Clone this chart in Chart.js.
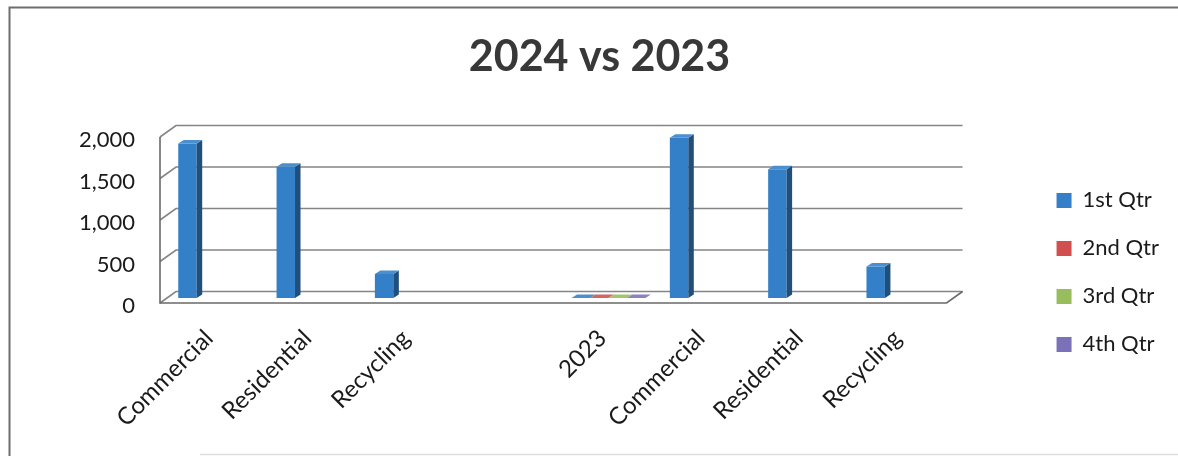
<!DOCTYPE html>
<html>
<head>
<meta charset="utf-8">
<title>2024 vs 2023</title>
<script src="https://cdn.jsdelivr.net/npm/chart.js@4.4.1/dist/chart.umd.min.js"></script>
<style>
  html, body { margin: 0; padding: 0; background: #ffffff; }
  canvas { display: block; }
</style>
</head>
<body>
<canvas id="chart" width="1178" height="456"></canvas>
<script>
// ---- data ----
const categories = ['Commercial', 'Residential', 'Recycling', '', '2023', 'Commercial', 'Residential', 'Recycling'];
const seriesNames = ['1st Qtr', '2nd Qtr', '3rd Qtr', '4th Qtr'];
const qtr1 = [1860, 1580, 290, null, 0, 1930, 1550, 380];
const qtr2 = [null, null, null, null, 0, null, null, null];
const qtr3 = [null, null, null, null, 0, null, null, null];
const qtr4 = [null, null, null, null, 0, null, null, null];
const yTickValues = [0, 500, 1000, 1500, 2000];
const yTickLabels = ['0', '500', '1,000', '1,500', '2,000'];

// ---- styling ----
const seriesColors = ['#3380c8', '#d24f4f', '#98bd5c', '#7a71b8'];
const FONT = 'Lato';
const WALL_DEPTH = { dx: 16, dy: 11.5 };   // front plane -> back wall
const BAR_SHIFT = { dx: 6, dy: -5 };       // bars sit mid-depth on the floor
const BAR_DEPTH = { dx: 5.5, dy: 3.5 };    // thickness of each column

function shade(hex, f) {
  const n = parseInt(hex.slice(1), 16);
  let r = (n >> 16) & 255, g = (n >> 8) & 255, b = n & 255;
  const mix = (c) => f < 1 ? Math.round(c * f) : Math.round(c + (255 - c) * (f - 1));
  return `rgb(${mix(r)},${mix(g)},${mix(b)})`;
}

// Page frame, 3D walls/floor and extruded column faces
const frame3d = {
  id: 'frame3d',
  beforeDraw(chart) {
    const ctx = chart.ctx;
    ctx.save();
    ctx.strokeStyle = '#6e6e6e';
    ctx.lineWidth = 2;
    ctx.beginPath();
    ctx.moveTo(9.5, 456);
    ctx.lineTo(9.5, 7.5);
    ctx.lineTo(1178, 7.5);
    ctx.stroke();
    ctx.strokeStyle = '#dddddd';
    ctx.lineWidth = 1.5;
    ctx.beginPath();
    ctx.moveTo(200, 454.5);
    ctx.lineTo(1178, 454.5);
    ctx.stroke();
    ctx.restore();
  },
  beforeDatasetsDraw(chart) {
    const { ctx, chartArea: a, scales: { y } } = chart;
    ctx.save();
    ctx.strokeStyle = '#858585';
    ctx.lineWidth = 1.6;
    yTickValues.forEach((v) => {
      const py = y.getPixelForValue(v);
      ctx.beginPath();
      ctx.moveTo(a.left, py);
      ctx.lineTo(a.left + WALL_DEPTH.dx, py - WALL_DEPTH.dy);
      ctx.lineTo(a.right + WALL_DEPTH.dx, py - WALL_DEPTH.dy);
      ctx.stroke();
    });
    ctx.strokeStyle = '#6a6a6a';
    ctx.beginPath();
    ctx.moveTo(a.left, y.getPixelForValue(yTickValues[yTickValues.length - 1]));
    ctx.lineTo(a.left, a.bottom);
    ctx.lineTo(a.right, a.bottom);
    ctx.lineTo(a.right + WALL_DEPTH.dx, a.bottom - WALL_DEPTH.dy);
    ctx.stroke();
    ctx.restore();
    ctx.save();
    ctx.translate(BAR_SHIFT.dx, BAR_SHIFT.dy);
  },
  afterDatasetsDraw(chart) {
    const ctx = chart.ctx;
    chart.data.datasets.forEach((ds, i) => {
      const meta = chart.getDatasetMeta(i);
      const base = ds.backgroundColor;
      meta.data.forEach((bar, j) => {
        if (ds.data[j] === null || ds.data[j] === undefined) return;
        const p = bar.getProps(['x', 'y', 'base', 'width'], true);
        const l = p.x - p.width / 2, r = p.x + p.width / 2;
        const top = Math.min(p.y, p.base), bottom = Math.max(p.y, p.base);
        // right side face
        ctx.fillStyle = shade(base, 0.62);
        ctx.beginPath();
        ctx.moveTo(r, top);
        ctx.lineTo(r + BAR_DEPTH.dx, top - BAR_DEPTH.dy);
        ctx.lineTo(r + BAR_DEPTH.dx, bottom - BAR_DEPTH.dy);
        ctx.lineTo(r, bottom);
        ctx.closePath();
        ctx.fill();
        // top face
        ctx.fillStyle = shade(base, 1.12);
        ctx.beginPath();
        ctx.moveTo(l, top);
        ctx.lineTo(l + BAR_DEPTH.dx, top - BAR_DEPTH.dy);
        ctx.lineTo(r + BAR_DEPTH.dx, top - BAR_DEPTH.dy);
        ctx.lineTo(r, top);
        ctx.closePath();
        ctx.fill();
      });
    });
    ctx.restore();
  }
};

const seriesData = [qtr1, qtr2, qtr3, qtr4];
const datasets = seriesNames.map((name, i) => ({
  label: name,
  data: seriesData[i],
  backgroundColor: seriesColors[i],
  borderColor: seriesColors[i],
  borderWidth: 0,
  categoryPercentage: 0.751,
  barPercentage: 1.0,
  yAxisID: 'y'
}));

new Chart(document.getElementById('chart'), {
  type: 'bar',
  data: { labels: categories, datasets },
  plugins: [frame3d],
  options: {
    responsive: false,
    animation: false,
    devicePixelRatio: 1,
    events: [],
    layout: { padding: { left: 30, right: 9, top: 0, bottom: 0 } },
    plugins: {
      tooltip: { enabled: false },
      title: {
        display: true,
        text: '2024 vs 2023',
        color: '#383838',
        font: { family: FONT, size: 43, weight: 'bold' },
        padding: { top: 31, bottom: 54.4 }
      },
      legend: {
        position: 'right',
        align: 'start',
        title: { display: true, text: '', font: { size: 12 }, padding: { top: 149, bottom: 0 } },
        labels: {
          boxWidth: 15,
          boxHeight: 15,
          padding: 26,
          color: '#1a1a1a',
          font: { family: FONT, size: 22 }
        }
      }
    },
    scales: {
      x: {
        offset: true,
        afterFit(s) { s.height = 153; },
        grid: { display: false, drawTicks: false },
        border: { display: false },
        ticks: {
          autoSkip: false,
          minRotation: 45,
          maxRotation: 45,
          padding: 21,
          labelOffset: 0,
          color: '#1a1a1a',
          font: { family: FONT, size: 24 }
        }
      },
      y: {
        position: 'left',
        min: 0,
        max: 2000,
        afterFit(s) { s.width = 130; },
        afterBuildTicks(s) { s.ticks = yTickValues.map((v) => ({ value: v })); },
        grid: { display: false, drawTicks: false },
        border: { display: false },
        ticks: {
          padding: 25,
          labelOffset: 3,
          color: '#1a1a1a',
          font: { family: FONT, size: 22 },
          callback: (v, i) => yTickLabels[i]
        }
      },
      y2: {
        position: 'right',
        afterFit(s) { s.width = 84; },
        grid: { display: false, drawTicks: false },
        border: { display: false },
        ticks: { display: false }
      }
    }
  }
});
</script>
</body>
</html>
